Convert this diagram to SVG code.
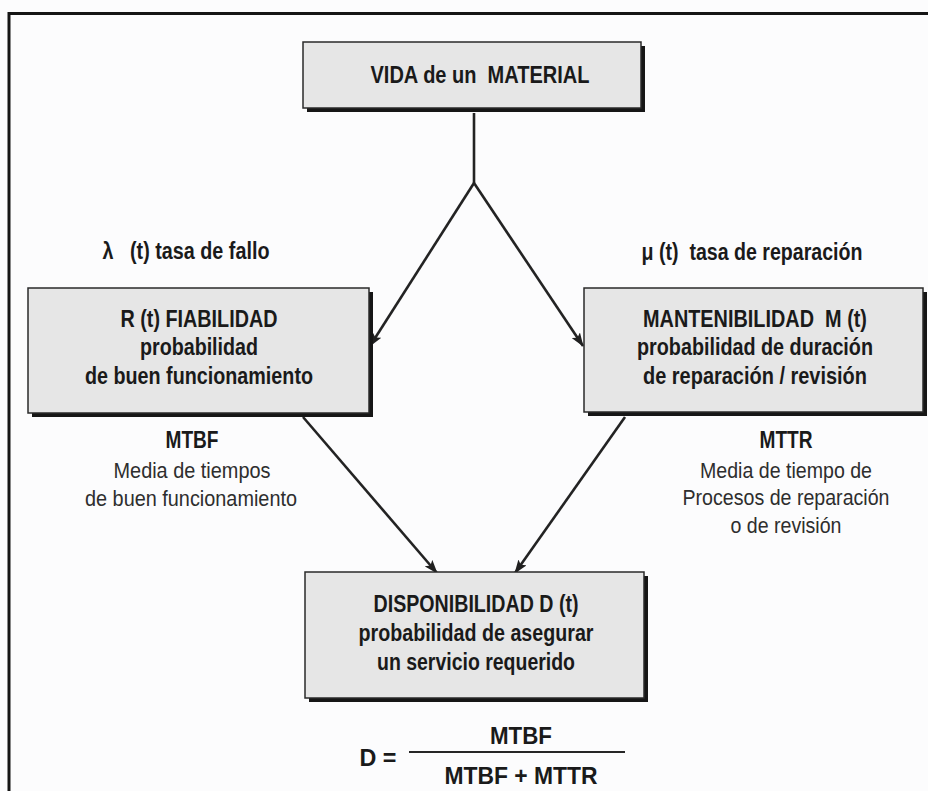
<svg xmlns="http://www.w3.org/2000/svg" width="928" height="791" viewBox="0 0 928 791">
  <defs>
    <marker id="arrow" markerUnits="userSpaceOnUse" markerWidth="14" markerHeight="10" refX="13" refY="5" orient="auto">
      <path d="M0,0 L14,5 L0,10 L3,5 z" fill="#202020"/>
    </marker>
    <style>
      .box { fill: #e6e6e6; stroke: #2a2a2a; stroke-width: 1.5; }
      .shadow { fill: #161616; }
      text { white-space: pre; }
      .b { font-family: "Liberation Sans", Arial, sans-serif; font-weight: bold; font-size: 23px; fill: #1a1a1a; text-anchor: middle; }
      .r { font-family: "Liberation Sans", Arial, sans-serif; font-size: 22px; fill: #2e2e2e; text-anchor: middle; }
      .edge { stroke: #232323; stroke-width: 2.6; fill: none; }
    </style>
  </defs>

  <rect x="0" y="0" width="928" height="791" fill="#fcfcfd"/>

  <!-- page frame (left and top rules) -->
  <g id="frame">
    <line x1="9" y1="12" x2="9" y2="791" stroke="#151515" stroke-width="3"/>
    <line x1="8" y1="13.5" x2="928" y2="13.5" stroke="#151515" stroke-width="3"/>
  </g>

  <!-- connectors -->
  <g id="connectors">
    <line class="edge" x1="474" y1="113" x2="474" y2="183"/>
    <line class="edge" x1="474" y1="183" x2="370" y2="346" marker-end="url(#arrow)"/>
    <line class="edge" x1="474" y1="183" x2="583" y2="346" marker-end="url(#arrow)"/>
    <line class="edge" x1="303" y1="417" x2="437" y2="573" marker-end="url(#arrow)"/>
    <line class="edge" x1="625" y1="417" x2="515" y2="573" marker-end="url(#arrow)"/>
  </g>

  <g id="vida">
    <rect class="shadow" x="307" y="46" width="338" height="66"/>
    <rect class="box" x="303" y="42" width="338" height="66"/>
    <text class="b" x="480" y="83" textLength="219" lengthAdjust="spacingAndGlyphs">VIDA de un  MATERIAL</text>
  </g>

  <g id="lambda-label">
    <text class="b" x="186" y="259" textLength="167" lengthAdjust="spacingAndGlyphs">λ   (t) tasa de fallo</text>
  </g>

  <g id="mu-label">
    <text class="b" x="752" y="260" textLength="221" lengthAdjust="spacingAndGlyphs">μ (t)  tasa de reparación</text>
  </g>

  <g id="fiabilidad">
    <rect class="shadow" x="32" y="292" width="341" height="125"/>
    <rect class="box" x="28" y="288" width="341" height="125"/>
    <text class="b" x="199" y="327" textLength="157" lengthAdjust="spacingAndGlyphs">R (t) FIABILIDAD</text>
    <text class="b" x="199" y="355" textLength="118" lengthAdjust="spacingAndGlyphs">probabilidad</text>
    <text class="b" x="199" y="384" textLength="228" lengthAdjust="spacingAndGlyphs">de buen funcionamiento</text>
  </g>

  <g id="mantenibilidad">
    <rect class="shadow" x="588" y="292" width="339" height="124"/>
    <rect class="box" x="584" y="288" width="339" height="124"/>
    <text class="b" x="755" y="327" textLength="224" lengthAdjust="spacingAndGlyphs">MANTENIBILIDAD  M (t)</text>
    <text class="b" x="755" y="355" textLength="236" lengthAdjust="spacingAndGlyphs">probabilidad de duración</text>
    <text class="b" x="755" y="384" textLength="224" lengthAdjust="spacingAndGlyphs">de reparación / revisión</text>
  </g>

  <g id="mtbf-note">
    <text class="b" x="192" y="448" textLength="53" lengthAdjust="spacingAndGlyphs">MTBF</text>
    <text class="r" x="192" y="478" textLength="157" lengthAdjust="spacingAndGlyphs">Media de tiempos</text>
    <text class="r" x="191" y="506" textLength="212" lengthAdjust="spacingAndGlyphs">de buen funcionamiento</text>
  </g>

  <g id="mttr-note">
    <text class="b" x="786" y="448" textLength="53" lengthAdjust="spacingAndGlyphs">MTTR</text>
    <text class="r" x="786" y="478" textLength="172" lengthAdjust="spacingAndGlyphs">Media de tiempo de</text>
    <text class="r" x="786" y="505" textLength="207" lengthAdjust="spacingAndGlyphs">Procesos de reparación</text>
    <text class="r" x="786" y="533" textLength="111" lengthAdjust="spacingAndGlyphs">o de revisión</text>
  </g>

  <g id="disponibilidad">
    <rect class="shadow" x="309" y="576" width="339" height="126"/>
    <rect class="box" x="305" y="572" width="339" height="126"/>
    <text class="b" x="476" y="612" textLength="205" lengthAdjust="spacingAndGlyphs">DISPONIBILIDAD D (t)</text>
    <text class="b" x="476" y="641" textLength="235" lengthAdjust="spacingAndGlyphs">probabilidad de asegurar</text>
    <text class="b" x="476" y="670" textLength="198" lengthAdjust="spacingAndGlyphs">un servicio requerido</text>
  </g>

  <g id="formula">
    <text class="b" x="378" y="766" textLength="37" lengthAdjust="spacingAndGlyphs">D =</text>
    <text class="b" x="521" y="744" textLength="62" lengthAdjust="spacingAndGlyphs">MTBF</text>
    <line x1="409" y1="752" x2="625" y2="752" stroke="#262626" stroke-width="2.2"/>
    <text class="b" x="521" y="784" textLength="153" lengthAdjust="spacingAndGlyphs">MTBF + MTTR</text>
  </g>
</svg>
